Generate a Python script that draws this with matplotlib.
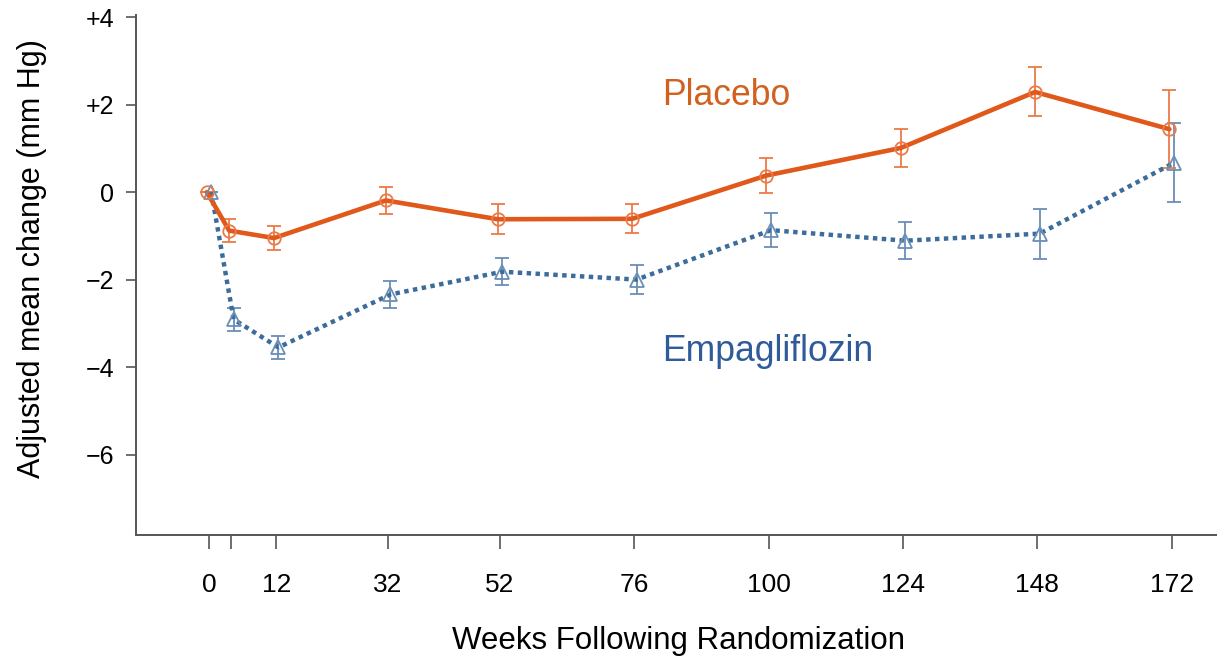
import matplotlib.pyplot as plt
import numpy as np

plt.rcParams["font.family"] = ["Liberation Sans", "DejaVu Sans"]

# ---------------- DATA ----------------
weeks = [0, 4, 12, 32, 52, 76, 100, 124, 148, 172]
tick_labels = ["0", "", "12", "32", "52", "76", "100", "124", "148", "172"]

placebo_mean = [0.0, -0.88, -1.05, -0.19, -0.62, -0.61, 0.38, 1.01, 2.29, 1.44]
placebo_err = [0.0, 0.26, 0.27, 0.31, 0.34, 0.33, 0.39, 0.43, 0.56, 0.89]

empa_mean = [0.0, -2.91, -3.55, -2.34, -1.82, -2.0, -0.87, -1.11, -0.95, 0.67]
empa_err = [0.0, 0.26, 0.26, 0.31, 0.31, 0.33, 0.39, 0.42, 0.57, 0.90]

yticks = [4, 2, 0, -2, -4, -6]
ytick_labels = ["+4", "+2", "0", "\u22122", "\u22124", "\u22126"]

# ---------------- COLORS ----------------
c_placebo = "#E0581A"
c_placebo_err = "#EC7A48"
c_placebo_txt = "#D2601F"
c_empa = "#3B6C9C"
c_empa_err = "#6A8FB6"
c_empa_txt = "#2F5B9A"

dodge = 0.4
x = np.array(weeks, dtype=float)

# ---------------- PLOT ----------------
fig = plt.figure(figsize=(12.17, 6.6), dpi=100)
ax = fig.add_axes([136 / 1217, 125 / 660, 1081 / 1217, 520 / 660])

# error bars
ax.errorbar(x + dodge, empa_mean, yerr=empa_err, fmt="none",
            ecolor=c_empa_err, elinewidth=1.3, capsize=5, capthick=1.3, zorder=2)
ax.errorbar(x - dodge, placebo_mean, yerr=placebo_err, fmt="none",
            ecolor=c_placebo_err, elinewidth=1.3, capsize=5, capthick=1.3, zorder=2)

# lines
ax.plot(x + dodge, empa_mean, color=c_empa, lw=3.2, linestyle=(0, (1, 1)),
        dash_capstyle="butt", zorder=3)
ax.plot(x - dodge, placebo_mean, color=c_placebo, lw=3.3, solid_capstyle="round",
        zorder=4)

# markers
ax.plot(x + dodge, empa_mean, linestyle="none", marker="^", markersize=10,
        markerfacecolor="none", markeredgecolor=c_empa_err, markeredgewidth=1.3, zorder=5)
ax.plot(x - dodge, placebo_mean, linestyle="none", marker="o", markersize=9,
        markerfacecolor="none", markeredgecolor=c_placebo_err, markeredgewidth=1.3, zorder=5)

# series labels
ax.text(81.0, 2.2, "Placebo", color=c_placebo_txt, fontsize=25.6, va="center", ha="left")
ax.text(81.0, -3.65, "Empagliflozin", color=c_empa_txt, fontsize=25.6, va="center", ha="left")

# ---------------- AXES ----------------
ax.set_xlim(-13.05, 180.1)
ax.set_ylim(-7.84, 4.05)

ax.set_xticks(weeks)
ax.set_xticklabels(tick_labels, fontsize=19)
ax.set_yticks(yticks)
ax.set_yticklabels(ytick_labels, fontsize=18)

ax.tick_params(axis="x", length=10, width=1.2, color="#555555", pad=17)
ax.tick_params(axis="y", length=7, width=1.2, color="#555555", pad=8.5)

for side in ["top", "right"]:
    ax.spines[side].set_visible(False)
for side in ["left", "bottom"]:
    ax.spines[side].set_color("#555555")
    ax.spines[side].set_linewidth(1.4)

ax.set_xlabel("Weeks Following Randomization", fontsize=22.5)
ax.set_ylabel("Adjusted mean change (mm Hg)", fontsize=22)
ax.xaxis.set_label_coords(0.502, -0.175)
ax.yaxis.set_label_coords(-0.082, 0.531)

# ---------------- SAVE ----------------
fig.savefig("out.png", dpi=100)
